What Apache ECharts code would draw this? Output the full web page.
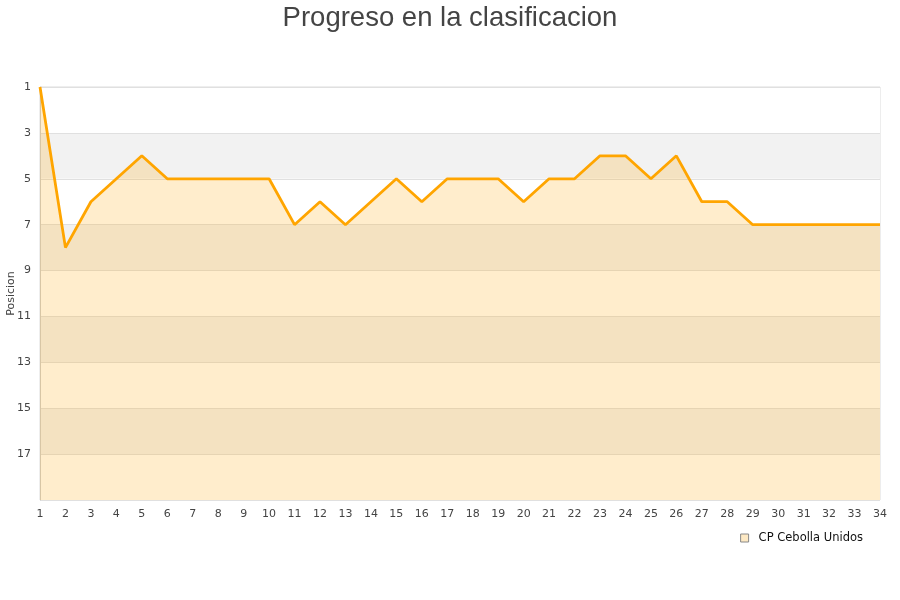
<!DOCTYPE html>
<html><head><meta charset="utf-8">
<script src="https://cdn.jsdelivr.net/npm/echarts@6/dist/echarts.min.js"></script>
<style>html,body{margin:0;padding:0;background:#fff}#c{width:900px;height:600px}</style>
</head><body><div id="c"></div>
<script>
const jornadas = ['1','2','3','4','5','6','7','8','9','10','11','12','13','14','15','16','17','18','19','20','21','22','23','24','25','26','27','28','29','30','31','32','33','34'];
const posiciones = [1,8,6,5,4,5,5,5,5,5,7,6,7,6,5,6,5,5,5,6,5,5,4,4,5,4,6,6,7,7,7,7,7,7];
const teamName = 'CP Cebolla Unidos';
const titleText = 'Progreso en la clasificacion';
const yName = 'Posicion';

const chart = echarts.init(document.getElementById('c'));
chart.setOption({
  animation: false,
  title: {text: titleText, left: 'center', top: -1,
    textStyle: {fontFamily: 'Liberation Sans', fontSize: 27.5, fontWeight: 'normal', color: '#444'}},
  grid: {left: 40, right: 20, top: 87, bottom: 100, containLabel: false, outerBoundsMode: 'none',
    show: true, borderColor: '#dcdcdc', borderWidth: 1},
  legend: {right: 32, top: 527, itemWidth: 8, itemHeight: 8, icon: 'rect', itemGap: 6,
    textStyle: {fontFamily: 'DejaVu Sans', fontSize: 11.5, color: '#111', padding: [0, 0, 0, 5]},
    data: [{name: teamName, itemStyle: {color: '#fde9c4', borderColor: '#888', borderWidth: 1}}]},
  xAxis: {type: 'category', data: jornadas, boundaryGap: false,
    axisLine: {show: false}, axisTick: {show: false}, splitLine: {show: false},
    axisLabel: {fontFamily: 'DejaVu Sans', fontSize: 11, color: '#444', margin: 9, interval: 0}},
  yAxis: {type: 'value', inverse: true, min: 1, max: 19, interval: 2,
    name: yName, nameLocation: 'middle', nameGap: 23, nameRotate: 90, nameMoveOverlap: false,
    nameTextStyle: {fontFamily: 'DejaVu Sans', fontSize: 11, color: '#444'},
    axisLine: {show: true, lineStyle: {color: '#cfcfcf'}}, axisTick: {show: false},
    axisLabel: {fontFamily: 'DejaVu Sans', fontSize: 11, color: '#444', margin: 9, showMaxLabel: false},
    splitLine: {show: true, lineStyle: {color: '#e0e0e0', width: 1}},
    splitArea: {show: true, areaStyle: {color: ['#ffffff', '#f2f2f2']}}},
  series: [{name: teamName, type: 'line', data: posiciones, showSymbol: false, symbol: 'none',
    lineStyle: {color: '#ffa500', width: 2.8}, itemStyle: {color: '#ffa500'},
    areaStyle: {color: '#ffa500', opacity: 0.2, origin: 'end'}}]
});
</script></body></html>
